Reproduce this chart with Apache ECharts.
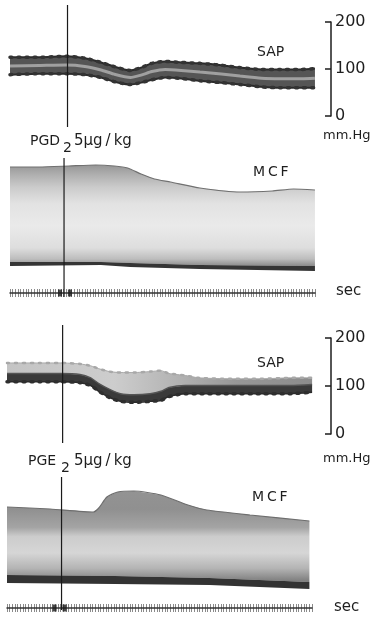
<!DOCTYPE html>
<html>
<head>
<meta charset="utf-8">
<script src="https://cdn.jsdelivr.net/npm/echarts@6/dist/echarts.min.js"></script>
<style>
  html, body { margin: 0; padding: 0; background: #fff; }
  #chart { width: 377px; height: 618px; }
</style>
</head>
<body>
<div id="chart"></div>
<script>
// time in seconds from start of trace, SAP in mm Hg, MCF in relative units (no scale on the record)

// --- PGD2 5 ug/kg ---
const sapTime1 = [0, 11, 21, 28, 34, 39, 45, 49, 53, 58, 64, 71, 79, 86, 94, 101, 109, 114];
const sapSys1 = [125, 125, 127, 123, 114, 105, 97, 103, 112, 116, 114, 112, 108, 103, 99, 99, 99, 101];
const sapDia1 = [88, 90, 90, 88, 82, 73, 67, 71, 77, 82, 80, 75, 71, 67, 62, 60, 60, 60];
const mcfTime1 = [0, 11, 22, 32, 39, 44, 49, 54, 60, 71, 86, 98, 106, 114];
const mcfTop1 = [113, 113, 114, 115, 114, 112, 106, 101, 98, 92, 88, 89, 91, 90];
const mcfBandTime1 = [0, 34, 45, 71, 114];
const mcfBandTop1 = [18, 18, 17, 15, 14];
const mcfBandBottom1 = [14, 15, 13, 11, 9];
const injection1 = [21.5, 20.2]; // above / below the drug label (scan is slightly skewed)
const pulses1 = [18.7, 22.4];

// --- PGE2 5 ug/kg ---
const sapTime2 = [0, 12, 20, 27, 31, 34, 38, 42, 47, 53, 57, 60, 66, 71, 83, 94, 105, 113];
const sapSys2 = [148, 148, 148, 146, 142, 136, 130, 128, 128, 130, 132, 126, 122, 117, 115, 115, 117, 117];
const sapMid2 = [126, 126, 126, 124, 117, 105, 93, 84, 82, 84, 89, 97, 101, 101, 101, 101, 101, 103];
const sapDia2 = [109, 109, 109, 107, 101, 89, 76, 68, 66, 68, 70, 78, 84, 84, 84, 84, 84, 87];
const mcfTime2 = [0, 16, 32, 34, 37, 41, 47, 57, 67, 74, 90, 112];
const mcfTop2 = [93, 91, 88, 92, 103, 108, 109, 105, 95, 90, 85, 79];
const mcfBandTime2 = [0, 40, 75, 112];
const mcfBandTop2 = [25, 24, 22, 18];
const mcfBandBottom2 = [17, 16, 15, 11];
const injection2 = [20.6, 20.2];
const pulses2 = [17.8, 21.5];

const pressureTicks = [0, 100, 200];

const FONT = 'DejaVu Sans';
const INK = '#1e1e1e';

const chart = echarts.init(document.getElementById('chart'));
const pairs = (t, v) => t.map((x, i) => [x, v[i]]);
const mean = (a, b) => a.map((x, i) => (x + b[i]) / 2);

// grid order: 0 SAP1, 1 MCF1, 2 time1, 3 mark1a, 4 mark1b, 5 SAP2, 6 MCF2, 7 time2, 8 mark2a, 9 mark2b
const grid = [
  { left: 10, right: 46, top: 22, height: 94 },
  { left: 10, right: 46, top: 150, height: 130 },
  { left: 10, right: 62, top: 289, height: 8 },
  { left: 10, right: 46, top: 5, height: 122 },
  { left: 10, right: 46, top: 158, height: 139 },
  { left: 7, right: 46, top: 338, height: 96 },
  { left: 7, right: 46, top: 470, height: 130 },
  { left: 7, right: 65, top: 604, height: 8 },
  { left: 7, right: 46, top: 325, height: 118 },
  { left: 7, right: 46, top: 477, height: 133 }
];

const timeGrids = [2, 7];
const xAxis = grid.map((g, i) => timeGrids.includes(i) ? {
  gridIndex: i, type: 'value', min: 0, max: 114, interval: 1,
  axisLabel: { show: false }, axisTick: { show: false },
  axisLine: { show: true, onZero: true, lineStyle: { color: '#333', width: 1.5 } },
  splitLine: { show: true, lineStyle: { color: '#8a8a8a', width: 1 } }
} : { gridIndex: i, type: 'value', min: 0, max: 120, show: false });

const sapAxis = (i) => ({
  gridIndex: i, type: 'value', position: 'right', min: 0, max: 200, interval: 100,
  axisLine: { show: true, onZero: false, lineStyle: { color: INK, width: 1.5 } },
  axisTick: { show: true, inside: true, length: 6, lineStyle: { color: INK, width: 1.5 } },
  axisLabel: {
    color: INK, fontFamily: FONT, fontSize: 16, margin: 4,
    formatter: (v) => pressureTicks.includes(v) ? String(v) : ''
  },
  splitLine: { show: false }
});
const yAxis = grid.map((g, i) => {
  if (i === 0 || i === 5) return sapAxis(i);
  if (i === 1 || i === 6) return { gridIndex: i, type: 'value', min: 0, max: 130, show: false };
  if (timeGrids.includes(i)) return { gridIndex: i, type: 'value', min: -1, max: 1, show: false };
  return { gridIndex: i, type: 'value', min: 0, max: 1, show: false };
});

const line = (idx, data, color, width, extra) => Object.assign({
  type: 'line', xAxisIndex: idx, yAxisIndex: idx, data,
  showSymbol: false, symbol: 'none', smooth: 0.2, silent: true, animation: false,
  lineStyle: { color, width }
}, extra || {});
// filled band between an upper and a lower trace, both mapped through the grid's axes
const band = (idx, upT, upV, loT, loV, fill) => ({
  type: 'custom', xAxisIndex: idx, yAxisIndex: idx, data: [[0, 0]], silent: true, clip: true,
  renderItem: (params, api) => {
    const pts = upT.map((t, i) => api.coord([t, upV[i]]))
      .concat(loT.map((t, i) => api.coord([t, loV[i]])).reverse());
    return { type: 'polygon', shape: { points: pts }, style: { fill } };
  }
});
// beaded rim that mimics the pulse ripple on the recorder trace
const rim = (idx, data, color, width) => line(idx, data, color, width || 3.5, {
  lineStyle: { color, width: width || 3.5, type: [2, 6], cap: 'round' }
});
const vgrad = (stops) => new echarts.graphic.LinearGradient(0, 0, 0, 1, stops.map(([o, c]) => ({ offset: o, color: c })));
const hgrad = (stops) => new echarts.graphic.LinearGradient(0, 0, 1, 0, stops.map(([o, c]) => ({ offset: o, color: c })));

const marker = (idx, t) => line(idx, [[t, 0], [t, 1]], '#1a1a1a', 1.2, { smooth: false, z: 10 });
const pulses = (idx, ts) => ({
  type: 'scatter', xAxisIndex: idx, yAxisIndex: idx, data: ts.map((t) => [t, 0]),
  symbol: 'rect', symbolSize: [4, 7], itemStyle: { color: '#1a1a1a' }, silent: true, z: 5
});

const series = [
  // PGD2 SAP band
  band(0, sapTime1, sapSys1, sapTime1, sapDia1, '#555555'),
  line(0, pairs(sapTime1, mean(sapSys1, sapDia1)), '#a0a0a0', 3),
  line(0, pairs(sapTime1, sapSys1), '#2b2b2b', 2),
  line(0, pairs(sapTime1, sapDia1), '#2b2b2b', 2),
  rim(0, pairs(sapTime1, sapSys1), '#333333'),
  rim(0, pairs(sapTime1, sapDia1), '#333333'),
  // PGD2 MCF
  band(1, mcfTime1, mcfTop1, mcfBandTime1, mcfBandTop1,
    vgrad([[0, '#969696'], [0.1, '#b0b0b0'], [0.22, '#cbcbcb'], [0.38, '#e2e2e2'], [0.6, '#eaeaea'], [0.82, '#dedede'], [0.93, '#bdbdbd'], [1, '#8a8a8a']])),
  band(1, mcfBandTime1, mcfBandTop1, mcfBandTime1, mcfBandBottom1, '#353535'),
  line(1, pairs(mcfTime1, mcfTop1), '#707070', 1.2),
  pulses(2, pulses1),
  marker(3, injection1[0]),
  marker(4, injection1[1]),
  // PGE2 SAP band
  band(5, sapTime2, sapSys2, sapTime2, sapMid2, hgrad([[0, '#c4c4c4'], [0.35, '#cdcdcd'], [0.55, '#b4b4b4'], [0.75, '#979797'], [1, '#8c8c8c']])),
  band(5, sapTime2, sapMid2, sapTime2, sapDia2, '#3a3a3a'),
  line(5, pairs(sapTime2, sapSys2), '#aaaaaa', 1),
  line(5, pairs(sapTime2, sapMid2), '#555555', 1.5),
  line(5, pairs(sapTime2, sapDia2), '#2a2a2a', 1.5),
  rim(5, pairs(sapTime2, sapDia2), '#2e2e2e'),
  rim(5, pairs(sapTime2, sapSys2), '#a8a8a8', 2.5),
  // PGE2 MCF
  band(6, mcfTime2, mcfTop2, mcfBandTime2, mcfBandTop2,
    vgrad([[0, '#939393'], [0.2, '#909090'], [0.4, '#a4a4a4'], [0.5, '#cccccc'], [0.68, '#d6d6d6'], [0.85, '#b4b4b4'], [1, '#7a7a7a']])),
  band(6, mcfBandTime2, mcfBandTop2, mcfBandTime2, mcfBandBottom2, '#333333'),
  line(6, pairs(mcfTime2, mcfTop2), '#6e6e6e', 1.2),
  pulses(7, pulses2),
  marker(8, injection2[0]),
  marker(9, injection2[1])
];

const label = (text, left, top, size) => ({
  text, left, top, padding: 0,
  textStyle: { color: INK, fontFamily: FONT, fontSize: size || 14, fontWeight: 'normal' }
});

chart.setOption({
  backgroundColor: '#ffffff',
  animation: false,
  title: [
    label('SAP', 257, 45),
    label('mm.Hg', 323, 129, 13),
    label('PGD', 30, 134, 14),
    label('2', 63, 141, 14),
    label('5µg\u2009/\u2009kg', 74, 134, 15),
    label('M\u2009C\u2009F', 253, 165),
    label('sec', 336, 284, 15),
    label('SAP', 257, 356),
    label('mm.Hg', 323, 452, 13),
    label('PGE', 28, 454, 14),
    label('2', 61, 461, 14),
    label('5µg\u2009/\u2009kg', 74, 454, 15),
    label('M\u2009C\u2009F', 252, 490),
    label('sec', 334, 600, 15)
  ],
  grid,
  xAxis,
  yAxis,
  series
});
</script>
</body>
</html>
